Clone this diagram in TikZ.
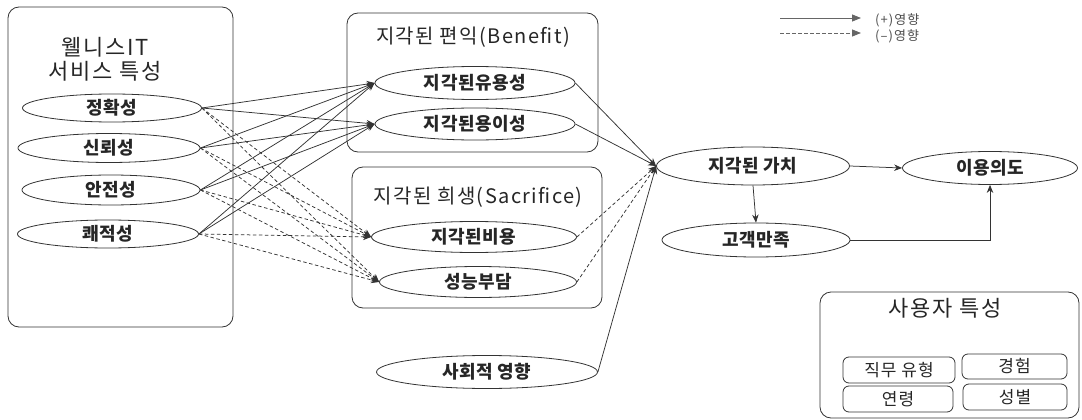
\documentclass[tikz,border=0pt]{standalone}
\usepackage{fontspec}
\setmainfont{Noto Sans CJK KR}
\usetikzlibrary{shapes.geometric,arrows.meta}
\definecolor{ln}{gray}{0.2}
\definecolor{tx}{gray}{0.15}
\tikzset{
  x=1pt,y=-1pt,
  ell/.style={ellipse,draw=ln,line width=0.8pt,inner sep=0pt,text=tx,font=\fontsize{18}{20}\selectfont\bfseries\addfontfeature{LetterSpace=3}},
  grp/.style={draw=ln,line width=0.8pt,rounded corners=11pt},
  sbox/.style={draw=ln,line width=0.8pt,rounded corners=6pt,inner sep=0pt,text=tx,font=\fontsize{17}{19}\selectfont\addfontfeature{LetterSpace=6}},
  ttl/.style={align=center,text=tx,font=\fontsize{22}{24}\selectfont\addfontfeature{LetterSpace=8}},
  ttlb/.style={text=tx,font=\fontsize{20}{22}\selectfont\addfontfeature{LetterSpace=7}},
  legtxt/.style={anchor=west,inner sep=0pt,text=black!70,font=\fontsize{13}{15}\selectfont\addfontfeature{LetterSpace=8}},
  plusarr/.style={draw=ln,line width=0.75pt,-{Stealth[length=8pt,width=6.5pt]}},
  minusarr/.style={plusarr,dash pattern=on 3.5pt off 2.5pt},
  legarr/.style={draw=black!60,line width=0.8pt,-{Stealth[length=9pt,width=7pt,inset=0pt]}},
}
\begin{document}
\begin{tikzpicture}
\useasboundingbox (0,0) rectangle (1082,420);
% group boxes
\draw[grp] (8,7) rectangle (233,327);
\node[ttl] (tL) at (105,59) {웰니스IT\\서비스 특성};
\draw[grp] (347,13) rectangle (598,152);
\node[ttlb] (tB) at (473,37) {지각된 편익(Benefit)};
\draw[grp] (352,167) rectangle (602,308);
\node[ttlb] (tS) at (478,197) {지각된 희생(Sacrifice)};
\draw[grp] (820,292) rectangle (1079,418);
\node[ttl] (tU) at (945,308) {사용자 특성};
% left ellipses
\node[ell,minimum width=179,minimum height=28] (a1) at (112,108) {정확성};
\node[ell,minimum width=182,minimum height=29] (a2) at (109,148) {신뢰성};
\node[ell,minimum width=178,minimum height=30] (a3) at (111,190) {안전성};
\node[ell,minimum width=181,minimum height=28] (a4) at (108,234) {쾌적성};
% middle ellipses
\node[ell,minimum width=200,minimum height=33] (b1) at (475,83) {지각된유용성};
\node[ell,minimum width=200,minimum height=32] (b2) at (475,124) {지각된용이성};
\node[ell,minimum width=205,minimum height=31] (c1) at (474,237) {지각된비용};
\node[ell,minimum width=197,minimum height=31] (c2) at (478,282) {성능부담};
\node[ell,minimum width=221,minimum height=33] (s) at (487,372) {사회적 영향};
% right ellipses
\node[ell,minimum width=193,minimum height=38] (v) at (753,166) {지각된 가치};
\node[ell,minimum width=175,minimum height=33] (u) at (990,168) {이용의도};
\node[ell,minimum width=188,minimum height=34] (k) at (756,240) {고객만족};
% small boxes
\node[sbox,minimum width=112,minimum height=26] (d1) at (899,370) {직무 유형};
\node[sbox,minimum width=105,minimum height=25] (d2) at (1014.5,366.5) {경험};
\node[sbox,minimum width=110,minimum height=26] (d3) at (898,399) {연령};
\node[sbox,minimum width=104,minimum height=26] (d4) at (1015,397) {성별};
% connectors
\foreach \i in {a1,a2,a3,a4}{
  \draw[plusarr] (\i.east) -- (b1.west);
  \draw[plusarr] (\i.east) -- (b2.west);
  \draw[minusarr] (\i.east) -- (c1.west);
  \draw[minusarr] (\i.east) -- (c2.west);
}
\draw[plusarr] (b1.east) -- (v.west);
\draw[plusarr] (b2.east) -- (v.west);
\draw[minusarr] (c1.east) -- (v.west);
\draw[minusarr] (c2.east) -- (v.west);
\draw[plusarr] (s.east) -- (v.west);
\draw[plusarr] (v.east) -- (u.west);
\draw[plusarr] (v.south) -- (k.north);
\draw[plusarr] (k.east) -| (u.south);
% legend
\coordinate (l1a) at (780,18); \coordinate (l1b) at (861,18);
\coordinate (l2a) at (780,33); \coordinate (l2b) at (861,33);
\draw[legarr] (l1a) -- (l1b);
\draw[legarr,dash pattern=on 3.5pt off 2.5pt] (l2a) -- (l2b);
\node[legtxt] (lg1) at (875,20) {(+)영향};
\node[legtxt] (lg2) at (875,36) {(–)영향};
\end{tikzpicture}
\end{document}
